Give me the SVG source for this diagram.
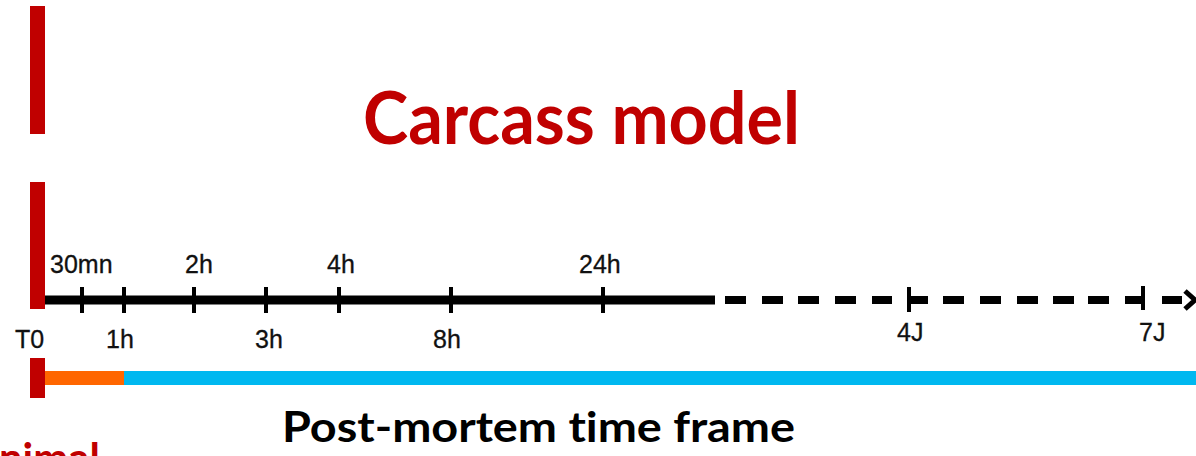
<svg xmlns="http://www.w3.org/2000/svg" width="1196" height="456" viewBox="0 0 1196 456">
  <style>
    .bar { fill: #C00000; }
    .title { font-family: Lato, "Open Sans", "Liberation Sans", sans-serif; font-weight: bold; font-variant-ligatures: none; }
    .tick { stroke: #000; stroke-width: 4; }
    .lbl { font-family: "Liberation Sans", Arial, sans-serif; font-size: 25px; fill: #111; stroke: #111; stroke-width: 0.3; }
    .dash { stroke: #000; stroke-width: 8; }
  </style>
  <rect width="1196" height="456" fill="#fff"/>

  <!-- red phase markers on the left edge -->
  <g id="markers">
    <rect class="bar" x="30" y="6" width="15" height="128"/>
    <rect class="bar" x="30" y="182" width="15" height="127"/>
    <rect class="bar" x="30" y="358" width="15" height="40"/>
  </g>

  <g id="title">
    <text class="title" x="363" y="144" font-size="73" fill="#C00000" textLength="437" lengthAdjust="spacingAndGlyphs">Carcass model</text>
  </g>

  <!-- time axis: solid part up to 24h, dashed beyond -->
  <g id="connectors">
    <line x1="45" y1="300" x2="715" y2="300" stroke="#000" stroke-width="9"/>
    <g class="tick">
      <line x1="82" y1="287" x2="82" y2="313"/>
      <line x1="124" y1="287" x2="124" y2="313"/>
      <line x1="194" y1="287" x2="194" y2="313"/>
      <line x1="266" y1="287" x2="266" y2="313"/>
      <line x1="339" y1="287" x2="339" y2="313"/>
      <line x1="451" y1="287" x2="451" y2="313"/>
      <line x1="603" y1="287" x2="603" y2="313"/>
      <line x1="909" y1="287" x2="909" y2="312"/>
      <line x1="1143" y1="286" x2="1143" y2="310"/>
    </g>
    <g class="dash">
      <line x1="725" y1="300" x2="746" y2="300"/>
      <line x1="762" y1="300" x2="783" y2="300"/>
      <line x1="798" y1="300" x2="819" y2="300"/>
      <line x1="835" y1="300" x2="856" y2="300"/>
      <line x1="872" y1="300" x2="892" y2="300"/>
      <line x1="909" y1="300" x2="928" y2="300"/>
      <line x1="943" y1="300" x2="964" y2="300"/>
      <line x1="980" y1="300" x2="1001" y2="300"/>
      <line x1="1017" y1="300" x2="1038" y2="300"/>
      <line x1="1053" y1="300" x2="1074" y2="300"/>
      <line x1="1088" y1="300" x2="1109" y2="300"/>
      <line x1="1125" y1="300" x2="1143" y2="300"/>
      <line x1="1162" y1="300" x2="1182" y2="300"/>
    </g>
    <polyline points="1185,291 1195,300 1185,309" fill="none" stroke="#000" stroke-width="5" stroke-linejoin="miter"/>
  </g>

  <!-- axis labels -->
  <g id="labels-top">
    <text class="lbl" x="50" y="273">30mn</text>
    <text class="lbl" x="185" y="273">2h</text>
    <text class="lbl" x="327" y="273">4h</text>
    <text class="lbl" x="579" y="273">24h</text>
  </g>
  <g id="labels-bottom">
    <text class="lbl" x="15" y="348">T0</text>
    <text class="lbl" x="106" y="348">1h</text>
    <text class="lbl" x="255" y="348">3h</text>
    <text class="lbl" x="433" y="348">8h</text>
    <text class="lbl" x="897" y="341">4J</text>
    <text class="lbl" x="1139" y="341">7J</text>
  </g>

  <!-- post-mortem phases bar -->
  <g id="phases">
    <rect x="45" y="371" width="79" height="14" fill="#FF6600"/>
    <rect x="124" y="371" width="1072" height="14" fill="#00B8F0"/>
  </g>

  <g id="caption">
    <text class="title" x="282" y="442" font-size="42" fill="#000" textLength="513" lengthAdjust="spacingAndGlyphs">Post-mortem time frame</text>
  </g>
  <g id="animal-label">
    <text class="title" x="-1" y="473" font-size="42" fill="#C00000" textLength="101" lengthAdjust="spacingAndGlyphs">nimal</text>
  </g>
</svg>
